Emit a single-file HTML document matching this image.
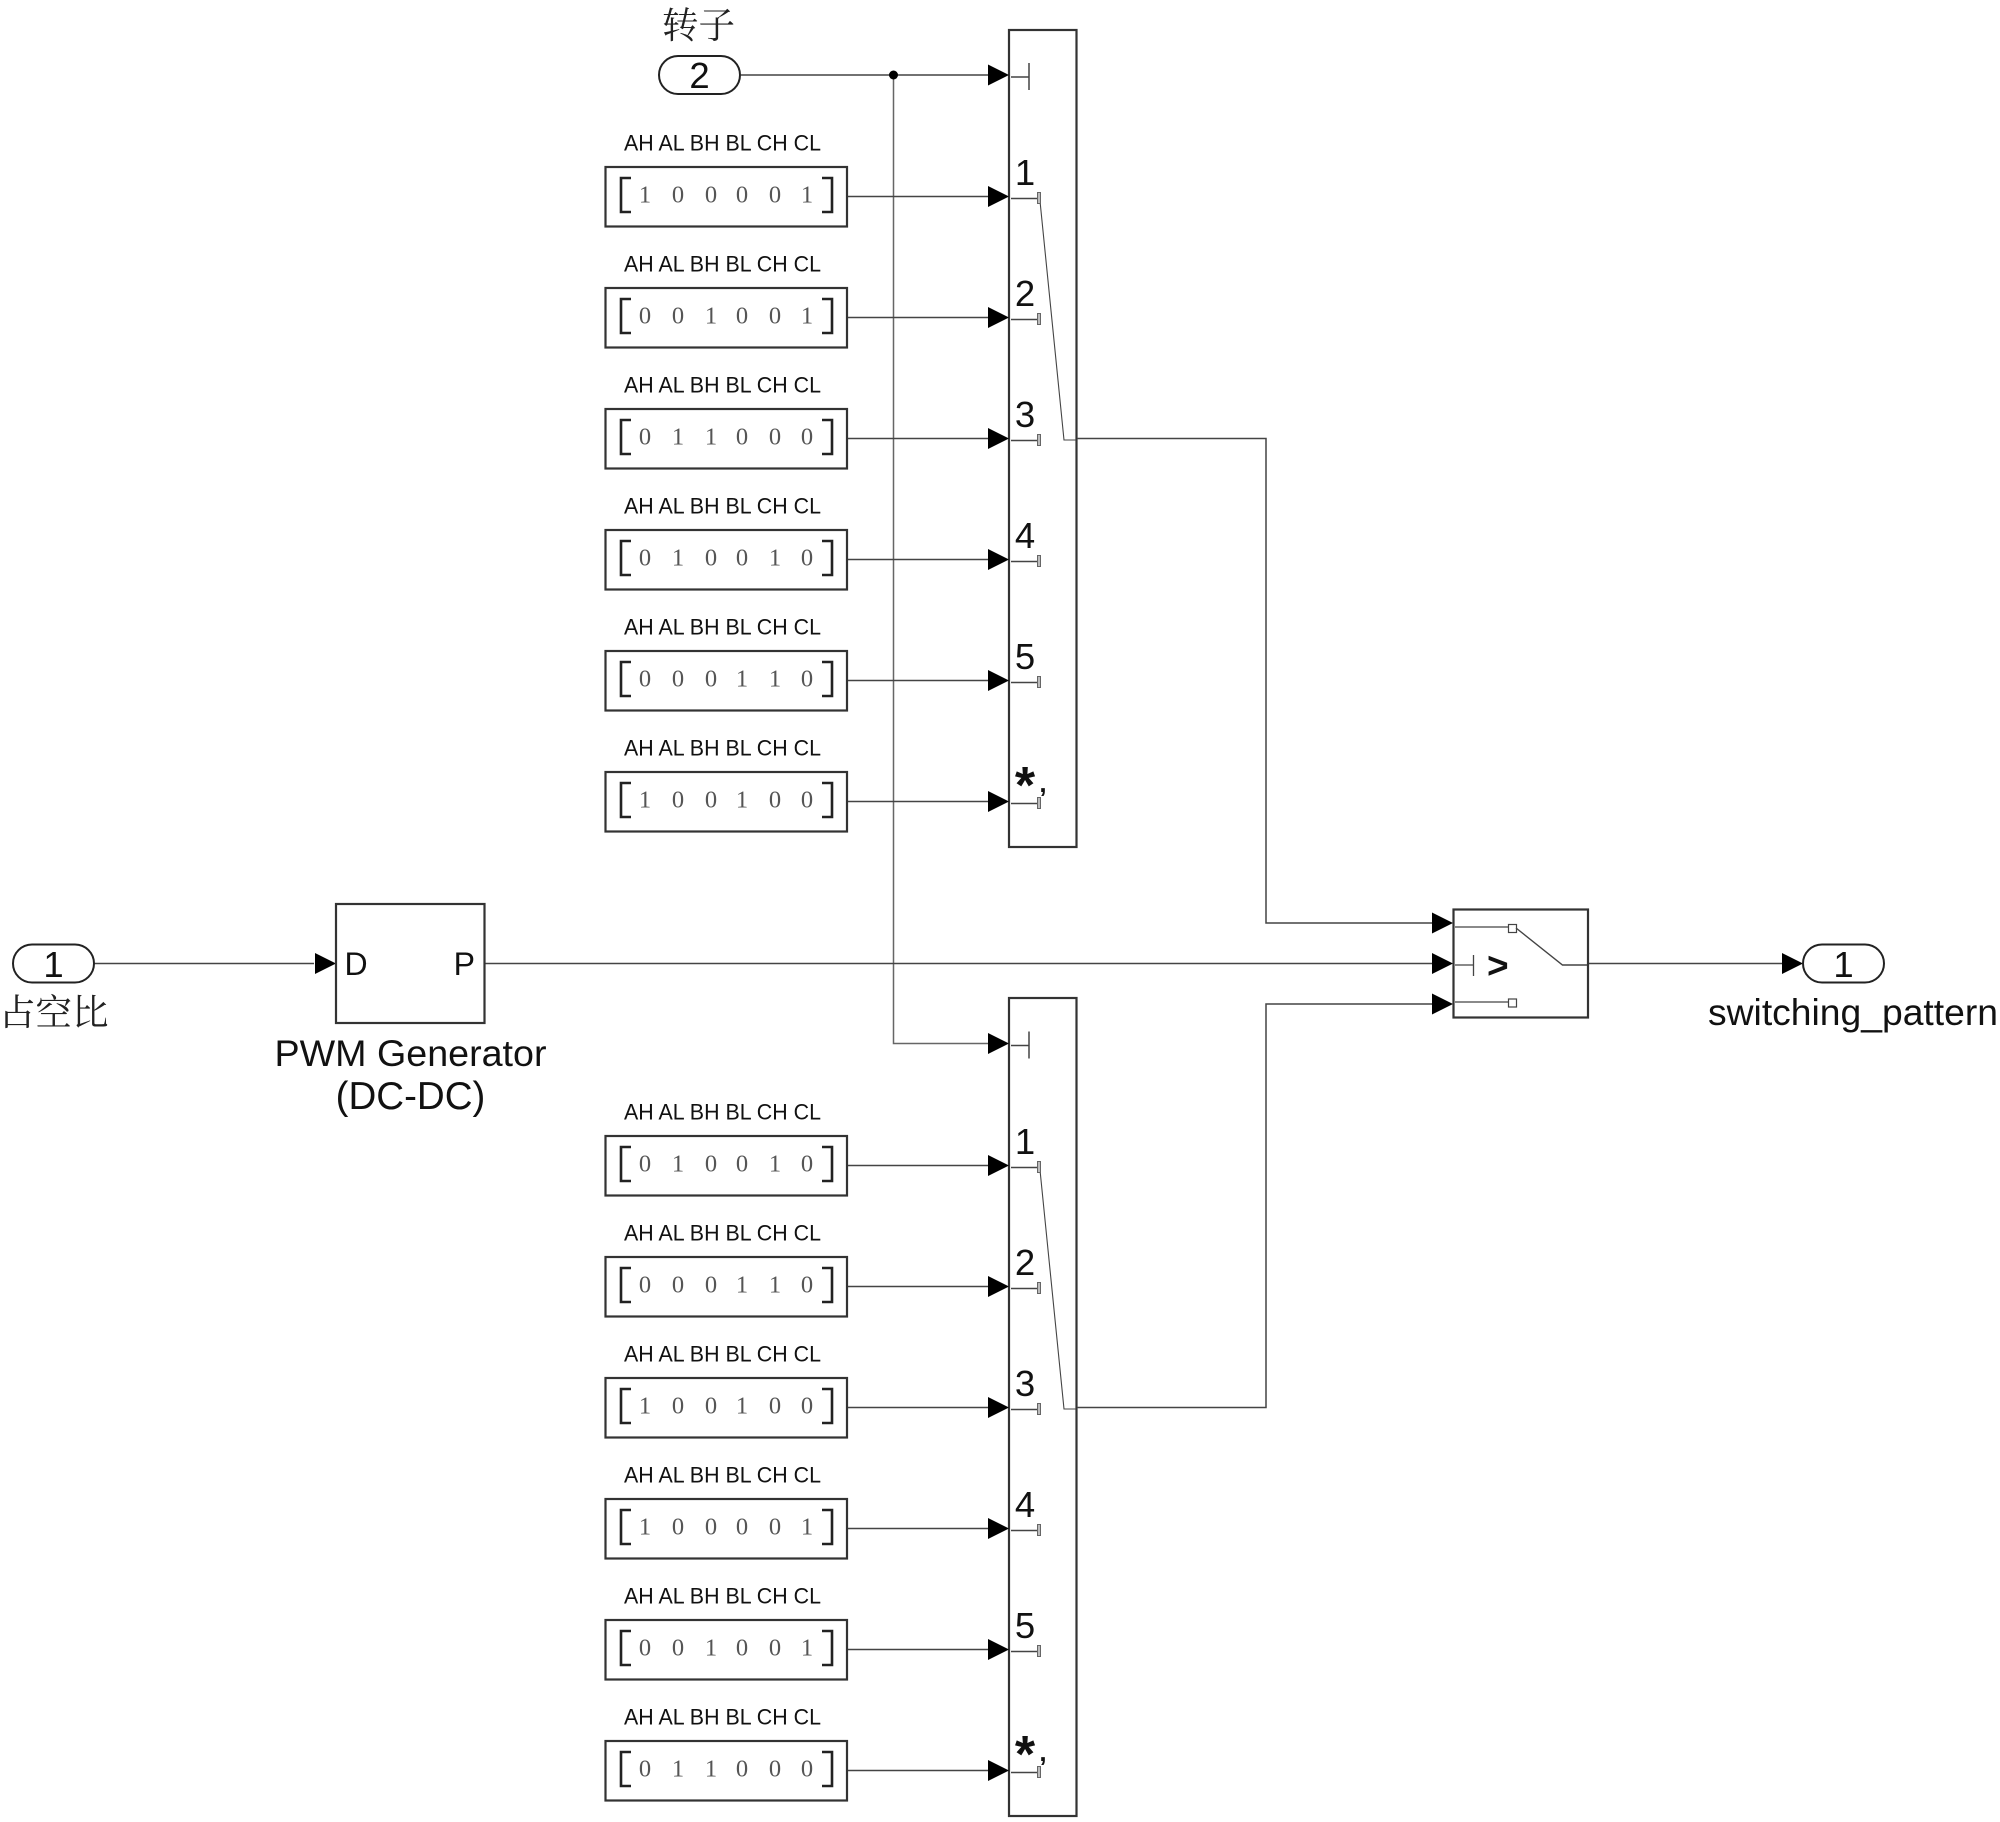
<!DOCTYPE html>
<html>
<head>
<meta charset="utf-8">
<style>
html,body{margin:0;padding:0;background:#fff;width:2000px;height:1822px;overflow:hidden}
svg{display:block}
text{font-family:"Liberation Sans",sans-serif;fill:#111}
.cjk{font-family:"Liberation Serif","Noto Serif CJK SC",serif;font-size:36.5px;fill:#222}
.lab{font-size:22.5px}
.dig{font-family:"Liberation Serif",serif;font-size:24.5px;fill:#555;text-anchor:middle}
.num{font-size:36.5px;text-anchor:middle}
.big{font-size:37.5px}
.ln{fill:none;stroke:#444;stroke-width:1.5}
.bx{fill:#fff;stroke:#333;stroke-width:2.2}
</style>
</head>
<body>
<svg width="2000" height="1822" viewBox="0 0 2000 1822" xmlns="http://www.w3.org/2000/svg">
<defs>
<polygon id="ar" points="-21,-10.5 0,0 -21,10.5" fill="#000"/>
<g id="row">
  <rect class="bx" x="605.5" y="-29" width="241.5" height="59.5"/>
  <path d="M631,-18H621V16H631M822,-18H832V16H822" fill="none" stroke="#222" stroke-width="2.6"/>
  <path class="ln" d="M848,0.5H988"/>
  <use href="#ar" x="1009" y="0.5"/>
  <path class="ln" d="M1011,2.5H1038" stroke-width="1.2"/>
  <rect x="1037.5" y="-3.5" width="3" height="11" fill="#bbb" stroke="#666" stroke-width="1"/>
</g>
<g id="ctl">
  <use href="#ar" x="1009" y="0"/>
  <path class="ln" d="M1011,2H1029M1029,-12V15" stroke-width="1.2"/>
</g>
</defs>

<!-- multiport blocks -->
<rect class="bx" x="1009" y="30" width="67.5" height="817"/>
<rect class="bx" x="1009" y="998" width="67.5" height="818"/>

<!-- main connectors -->
<path class="ln" d="M741,75H988"/>
<path class="ln" stroke="#666" style="stroke:#666" d="M893.5,75V1043.5H988"/>
<circle cx="893.5" cy="75" r="4.5" fill="#000"/>
<path class="ln" d="M94,963.5H314"/>
<path class="ln" d="M485,963.5H1432"/>
<path class="ln" d="M1077,438.5H1266V923H1432"/>
<path class="ln" d="M1077,1407.5H1266V1004H1432"/>
<path class="ln" d="M1589,963.5H1782"/>

<use href="#ctl" x="0" y="75"/>
<use href="#ctl" x="0" y="1043.5"/>

<!-- internal switching lines -->
<path class="ln" style="stroke-width:1.1" d="M1040,201L1064,440H1076"/>
<path class="ln" style="stroke-width:1.1" d="M1040,1170L1064,1409H1076"/>

<!-- Top rows -->
<g transform="translate(0,196)"><use href="#row"/><text class="lab" x="624" y="-45.5" textLength="197" lengthAdjust="spacingAndGlyphs">AH AL BH BL CH CL</text><text class="dig" x="645 678 711 742 775 807" y="6.5">100001</text><text class="num" x="1025" y="-11">1</text></g>
<g transform="translate(0,317)"><use href="#row"/><text class="lab" x="624" y="-45.5" textLength="197" lengthAdjust="spacingAndGlyphs">AH AL BH BL CH CL</text><text class="dig" x="645 678 711 742 775 807" y="6.5">001001</text><text class="num" x="1025" y="-11">2</text></g>
<g transform="translate(0,438)"><use href="#row"/><text class="lab" x="624" y="-45.5" textLength="197" lengthAdjust="spacingAndGlyphs">AH AL BH BL CH CL</text><text class="dig" x="645 678 711 742 775 807" y="6.5">011000</text><text class="num" x="1025" y="-11">3</text></g>
<g transform="translate(0,559)"><use href="#row"/><text class="lab" x="624" y="-45.5" textLength="197" lengthAdjust="spacingAndGlyphs">AH AL BH BL CH CL</text><text class="dig" x="645 678 711 742 775 807" y="6.5">010010</text><text class="num" x="1025" y="-11">4</text></g>
<g transform="translate(0,680)"><use href="#row"/><text class="lab" x="624" y="-45.5" textLength="197" lengthAdjust="spacingAndGlyphs">AH AL BH BL CH CL</text><text class="dig" x="645 678 711 742 775 807" y="6.5">000110</text><text class="num" x="1025" y="-11">5</text></g>
<g transform="translate(0,801)"><use href="#row"/><text class="lab" x="624" y="-45.5" textLength="197" lengthAdjust="spacingAndGlyphs">AH AL BH BL CH CL</text><text class="dig" x="645 678 711 742 775 807" y="6.5">100100</text><text x="1025" y="2" font-size="52" font-weight="bold" text-anchor="middle">*</text><text x="1043" y="-9" font-size="26" font-weight="bold" text-anchor="middle">,</text></g>

<!-- Bottom rows -->
<g transform="translate(0,1165)"><use href="#row"/><text class="lab" x="624" y="-45.5" textLength="197" lengthAdjust="spacingAndGlyphs">AH AL BH BL CH CL</text><text class="dig" x="645 678 711 742 775 807" y="6.5">010010</text><text class="num" x="1025" y="-11">1</text></g>
<g transform="translate(0,1286)"><use href="#row"/><text class="lab" x="624" y="-45.5" textLength="197" lengthAdjust="spacingAndGlyphs">AH AL BH BL CH CL</text><text class="dig" x="645 678 711 742 775 807" y="6.5">000110</text><text class="num" x="1025" y="-11">2</text></g>
<g transform="translate(0,1407)"><use href="#row"/><text class="lab" x="624" y="-45.5" textLength="197" lengthAdjust="spacingAndGlyphs">AH AL BH BL CH CL</text><text class="dig" x="645 678 711 742 775 807" y="6.5">100100</text><text class="num" x="1025" y="-11">3</text></g>
<g transform="translate(0,1528)"><use href="#row"/><text class="lab" x="624" y="-45.5" textLength="197" lengthAdjust="spacingAndGlyphs">AH AL BH BL CH CL</text><text class="dig" x="645 678 711 742 775 807" y="6.5">100001</text><text class="num" x="1025" y="-11">4</text></g>
<g transform="translate(0,1649)"><use href="#row"/><text class="lab" x="624" y="-45.5" textLength="197" lengthAdjust="spacingAndGlyphs">AH AL BH BL CH CL</text><text class="dig" x="645 678 711 742 775 807" y="6.5">001001</text><text class="num" x="1025" y="-11">5</text></g>
<g transform="translate(0,1770)"><use href="#row"/><text class="lab" x="624" y="-45.5" textLength="197" lengthAdjust="spacingAndGlyphs">AH AL BH BL CH CL</text><text class="dig" x="645 678 711 742 775 807" y="6.5">011000</text><text x="1025" y="2" font-size="52" font-weight="bold" text-anchor="middle">*</text><text x="1043" y="-9" font-size="26" font-weight="bold" text-anchor="middle">,</text></g>

<!-- Inport 2 -->
<rect x="659" y="56" width="81" height="38" rx="19" ry="19" fill="#fff" stroke="#222" stroke-width="2"/>
<text class="num" x="699.5" y="88">2</text>
<text class="cjk" x="662" y="38">转子</text>

<!-- Inport 1 -->
<rect x="13" y="944.5" width="81" height="38" rx="19" ry="19" fill="#fff" stroke="#222" stroke-width="2"/>
<text class="num" x="53.5" y="977">1</text>
<text class="cjk" x="-1" y="1025">占空比</text>

<!-- PWM block -->
<use href="#ar" x="336" y="963.5"/>
<rect class="bx" x="336" y="904" width="148.5" height="119"/>
<text x="344.5" y="975" font-size="32">D</text>
<text x="475" y="975" font-size="32" text-anchor="end">P</text>
<text class="big" x="410.5" y="1066" text-anchor="middle" textLength="272" lengthAdjust="spacingAndGlyphs">PWM Generator</text>
<text x="410.5" y="1109" font-size="38.5" text-anchor="middle">(DC-DC)</text>

<!-- Switch -->
<use href="#ar" x="1453" y="923"/>
<use href="#ar" x="1453" y="963.5"/>
<use href="#ar" x="1453" y="1004"/>
<rect class="bx" x="1453.5" y="909.5" width="134.5" height="108"/>
<path class="ln" style="stroke-width:1.3" d="M1455,927H1508M1455,1002H1508M1455,965H1473.5M1473.5,955V976"/>
<rect x="1508.5" y="924.5" width="8" height="8" fill="#fff" stroke="#444" stroke-width="1.2"/>
<rect x="1508.5" y="999" width="8" height="8" fill="#fff" stroke="#444" stroke-width="1.2"/>
<path class="ln" style="stroke-width:1.4" d="M1516,928L1562.5,965H1587"/>
<text x="1487" y="978" font-size="37" font-weight="bold">&gt;</text>

<!-- Outport 1 -->
<use href="#ar" x="1803" y="963.5"/>
<rect x="1803" y="944.5" width="81" height="38" rx="19" ry="19" fill="#fff" stroke="#222" stroke-width="2"/>
<text class="num" x="1843.5" y="977">1</text>
<text x="1708" y="1025" font-size="37.5" textLength="290" lengthAdjust="spacingAndGlyphs">switching_pattern</text>
</svg>
</body>
</html>
